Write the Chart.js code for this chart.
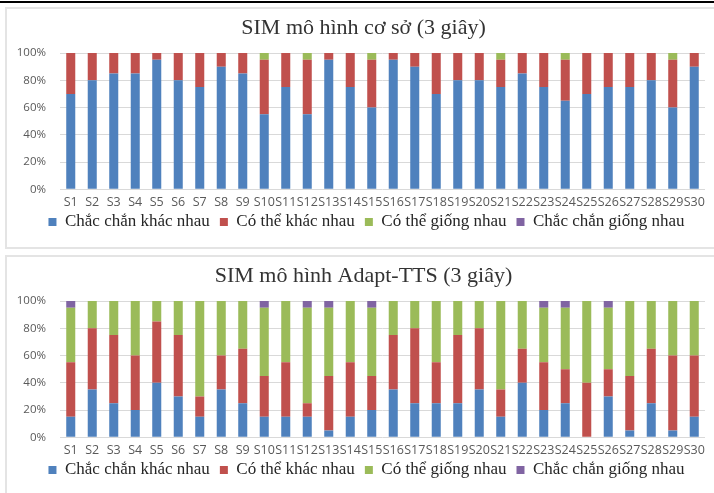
<!DOCTYPE html>
<html>
<head>
<meta charset="utf-8">
<script src="https://cdn.jsdelivr.net/npm/chart.js@4.4.1/dist/chart.umd.min.js"></script>
<style>
  html, body { margin: 0; padding: 0; background: #fff; width: 714px; height: 493px; overflow: hidden; }
  .topline { position: absolute; left: 0; top: 1px; width: 714px; height: 2px; background: #000; }
  .box { position: absolute; left: 5px; width: 720px; border: 2px solid #e4e4e4; box-sizing: border-box; }
  canvas { position: absolute; left: 6px; }
</style>
</head>
<body>
<div class="topline"></div>
<div class="box" style="top:7px;height:242px;"></div>
<div class="box" style="top:255px;height:250px;"></div>
<canvas id="c1" width="708" height="240" style="top:8px;"></canvas>
<canvas id="c2" width="708" height="240" style="top:256px;"></canvas>
<script>
// ---- Data ----
const categories = ["S1","S2","S3","S4","S5","S6","S7","S8","S9","S10","S11","S12","S13","S14","S15","S16","S17","S18","S19","S20","S21","S22","S23","S24","S25","S26","S27","S28","S29","S30"];
const seriesNames = ["Chắc chắn khác nhau", "Có thể khác nhau", "Có thể giống nhau", "Chắc chắn giống nhau"];
const yTicks = [0, 20, 40, 60, 80, 100];

const title1 = "SIM mô hình cơ sở (3 giây)";
const base_certDiff  = [70,80,85,85,95,80,75,90,85,55,75,55,95,75,60,95,90,70,80,80,75,85,75,65,70,75,75,80,60,90];
const base_maybeDiff = [30,20,15,15,5,20,25,10,15,40,25,40,5,25,35,5,10,30,20,20,20,15,25,30,30,25,25,20,35,10];
const base_maybeSame = [0,0,0,0,0,0,0,0,0,5,0,5,0,0,5,0,0,0,0,0,5,0,0,5,0,0,0,0,5,0];
const base_certSame  = [0,0,0,0,0,0,0,0,0,0,0,0,0,0,0,0,0,0,0,0,0,0,0,0,0,0,0,0,0,0];

const title2 = "SIM mô hình Adapt-TTS (3 giây)";
const adapt_certDiff  = [15,35,25,20,40,30,15,35,25,15,15,15,5,15,20,35,25,25,25,35,15,40,20,25,0,30,5,25,5,15];
const adapt_maybeDiff = [40,45,50,40,45,45,15,25,40,30,40,10,40,40,25,40,55,30,50,45,20,25,35,25,40,20,40,40,55,45];
const adapt_maybeSame = [40,20,25,40,15,25,70,40,35,50,45,70,50,45,50,25,20,45,25,20,65,35,40,45,60,45,55,35,40,40];
const adapt_certSame  = [5,0,0,0,0,0,0,0,0,5,0,5,5,0,5,0,0,0,0,0,0,0,5,5,0,5,0,0,0,0];

const colors = ["#4F81BD", "#C0504D", "#9BBB59", "#8064A2"];

// shifts title / legend boxes after layout (they are centred over the whole card in the original)
const boxShift = {
  id: 'boxShift',
  afterLayout(chart, args, opts) {
    const l = chart.legend, t = chart.titleBlock;
    if (l) { l.left += opts.legendDx; l.right += opts.legendDx; l.top += opts.legendDy; l.bottom += opts.legendDy; }
    if (t) { t.left += opts.titleDx; t.right += opts.titleDx; }
  }
};

function makeChart(id, title, series) {
  return new Chart(document.getElementById(id), {
    type: 'bar',
    data: {
      labels: categories,
      datasets: series.map((d, i) => ({
        label: seriesNames[i],
        data: d,
        backgroundColor: colors[i],
        borderWidth: 0,
        categoryPercentage: 1.0,
        barPercentage: 0.42
      }))
    },
    plugins: [boxShift],
    options: {
      responsive: false,
      animation: false,
      devicePixelRatio: 1,
      layout: { padding: { left: 0, right: 9, top: 0, bottom: 0 } },
      plugins: {
        boxShift: { legendDx: 11, legendDy: -7.5, titleDx: 8 },
        tooltip: { enabled: false },
        title: {
          display: true,
          text: title,
          color: '#333333',
          font: { family: "'Liberation Serif', 'Times New Roman', serif", size: 22, weight: 'normal' },
          padding: { top: 7.3, bottom: 11.3 }
        },
        legend: {
          position: 'bottom',
          labels: {
            boxWidth: 8,
            boxHeight: 8,
            padding: 10,
            color: '#262626',
            font: { family: "'Liberation Serif', 'Times New Roman', serif", size: 17 }
          }
        }
      },
      scales: {
        x: {
          stacked: true,
          grid: { display: false, drawTicks: false },
          border: { display: false },
          ticks: {
            autoSkip: false, maxRotation: 0, minRotation: 0, padding: 5.7,
            color: '#595959',
            font: { family: "'Open Sans', sans-serif", size: 12.5 }
          },
          afterFit: (s) => { s.height = 21.7; }
        },
        y: {
          stacked: true,
          min: 0, max: 100,
          afterBuildTicks: (s) => { s.ticks = yTicks.map(v => ({ value: v })); },
          grid: { color: '#d9d9d9', drawTicks: false, lineWidth: 1 },
          border: { display: false },
          ticks: {
            padding: 14,
            color: '#595959',
            font: { family: "'Open Sans', sans-serif", size: 11.5 },
            callback: (v) => v + '%'
          },
          afterFit: (s) => { s.width = 54; }
        }
      }
    }
  });
}

makeChart('c1', title1, [base_certDiff, base_maybeDiff, base_maybeSame, base_certSame]);
makeChart('c2', title2, [adapt_certDiff, adapt_maybeDiff, adapt_maybeSame, adapt_certSame]);
</script>
</body>
</html>
